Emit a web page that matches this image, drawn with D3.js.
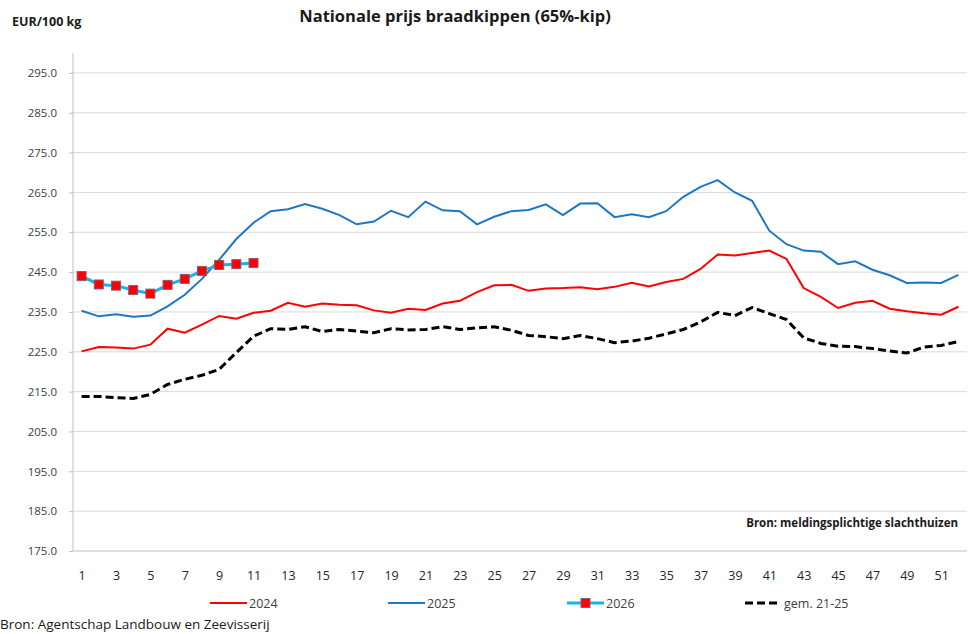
<!DOCTYPE html>
<html>
<head>
<meta charset="utf-8">
<script src="https://cdn.jsdelivr.net/npm/d3@7"></script>
<style>
  body { margin: 0; background: #fff; }
  svg { font-family: "Open Sans", sans-serif; }
</style>
</head>
<body>
<svg width="971" height="634"></svg>
<script>
// weeks 1..52
var weeks = d3.range(1, 53);
var weekLabels = weeks.filter(function (w) { return w % 2 === 1; });
var yTicks = [175, 185, 195, 205, 215, 225, 235, 245, 255, 265, 275, 285, 295];

var v2024 = [225.1, 226.2, 226.1, 225.8, 226.8, 230.8, 229.8, 231.8, 234.0, 233.3,
    234.8, 235.3, 237.3, 236.3, 237.1, 236.8, 236.7, 235.4, 234.8, 235.8,
    235.5, 237.1, 237.8, 240.0, 241.7, 241.8, 240.3, 240.9, 241.0, 241.2,
    240.7, 241.3, 242.3, 241.4, 242.5, 243.3, 245.8, 249.4, 249.2, 249.8,
    250.4, 248.3, 241.0, 238.8, 236.0, 237.3, 237.8, 235.8, 235.2, 234.7,
    234.3, 236.3];
var v2025 = [235.3, 233.9, 234.4, 233.8, 234.1, 236.4, 239.3, 243.3, 248.1, 253.3,
    257.4, 260.3, 260.8, 262.1, 260.9, 259.3, 257.0, 257.7, 260.4, 258.8,
    262.7, 260.5, 260.3, 257.0, 258.9, 260.3, 260.6, 262.0, 259.3, 262.2,
    262.3, 258.8, 259.5, 258.8, 260.3, 263.9, 266.4, 268.1, 265.0, 262.9,
    255.4, 252.0, 250.4, 250.1, 247.0, 247.7, 245.6, 244.2, 242.3, 242.4,
    242.3, 244.3];
var v2026 = [244.0, 241.9, 241.6, 240.5, 239.6, 241.8, 243.3, 245.3, 246.8, 247.0, 247.3];
var vGem = [213.8, 213.8, 213.5, 213.3, 214.3, 216.8, 218.1, 219.1, 220.6, 224.8,
    228.9, 230.8, 230.6, 231.3, 230.1, 230.6, 230.2, 229.8, 230.8, 230.5,
    230.6, 231.3, 230.6, 231.0, 231.3, 230.4, 229.1, 228.8, 228.3, 229.1,
    228.3, 227.3, 227.7, 228.4, 229.5, 230.6, 232.5, 234.9, 234.1, 236.1,
    234.6, 233.1, 228.5, 227.1, 226.4, 226.3, 225.8, 225.2, 224.7, 226.2,
    226.6, 227.6];

var svg = d3.select("svg");
var plotLeft = 73, plotRight = 967, plotTop = 53, plotBottom = 551;

var x = d3.scalePoint().domain(weeks).range([plotLeft, plotRight]).padding(0.5);
var y = d3.scaleLinear().domain([175, 300]).range([plotBottom, plotTop]);

// title and labels
svg.append("text")
    .attr("x", 455).attr("y", 22)
    .attr("text-anchor", "middle")
    .attr("font-size", 16.5).attr("font-weight", "bold").attr("fill", "#1a1a1a")
    .text("Nationale prijs braadkippen (65%-kip)");
svg.append("text")
    .attr("x", 12).attr("y", 26)
    .attr("font-size", 12.5).attr("font-weight", "bold").attr("fill", "#1a1a1a")
    .text("EUR/100 kg");

// grid
svg.append("g")
    .selectAll("line")
    .data(yTicks.slice(1))
    .enter().append("line")
    .attr("x1", plotLeft).attr("x2", plotRight)
    .attr("y1", function (d) { return y(d); })
    .attr("y2", function (d) { return y(d); })
    .attr("stroke", "#d9d9d9").attr("stroke-width", 1);

// y axis
var yAxis = svg.append("g")
    .attr("transform", "translate(" + plotLeft + ",0)")
    .call(d3.axisLeft(y).tickValues(yTicks).tickSize(4).tickFormat(d3.format(".1f")));
yAxis.select(".domain").attr("stroke", "#bfbfbf").attr("d", "M0," + plotTop + "V" + plotBottom);
yAxis.selectAll(".tick line").attr("stroke", "#bfbfbf");
yAxis.selectAll(".tick text").attr("x", -16).attr("font-size", 11.5).attr("fill", "#404040")
    .attr("font-family", "Open Sans, sans-serif");

// x axis
var xAxis = svg.append("g")
    .attr("transform", "translate(0," + plotBottom + ")")
    .call(d3.axisBottom(x).tickValues(weekLabels).tickSize(0));
xAxis.select(".domain").attr("stroke", "#bfbfbf").attr("d", "M" + plotLeft + ",0H" + plotRight);
xAxis.selectAll(".tick text").attr("dy", 0).attr("y", 29).attr("font-size", 12.5).attr("fill", "#262626")
    .attr("font-family", "Open Sans, sans-serif");

var line = d3.line()
    .x(function (d, i) { return x(weeks[i]); })
    .y(function (d) { return y(d); });

svg.append("path").datum(vGem).attr("d", line)
    .attr("fill", "none").attr("stroke", "#000").attr("stroke-width", 3)
    .attr("stroke-dasharray", "8,4");
svg.append("path").datum(v2024).attr("d", line)
    .attr("fill", "none").attr("stroke", "#ff0000").attr("stroke-width", 2);
svg.append("path").datum(v2025).attr("d", line)
    .attr("fill", "none").attr("stroke", "#1f77c4").attr("stroke-width", 2);
svg.append("path").datum(v2026).attr("d", line)
    .attr("fill", "none").attr("stroke", "#15b4ea").attr("stroke-width", 3);
svg.append("g").selectAll("rect")
    .data(v2026)
    .enter().append("rect")
    .attr("x", function (d, i) { return x(weeks[i]) - 4.5; })
    .attr("y", function (d) { return y(d) - 4.5; })
    .attr("width", 9).attr("height", 9)
    .attr("fill", "#ff0000").attr("stroke", "#8c5a6e").attr("stroke-width", 1);

svg.append("text")
    .attr("x", 958).attr("y", 527)
    .attr("text-anchor", "end")
    .attr("font-size", 11.5).attr("font-weight", "bold").attr("fill", "#1a1a1a")
    .text("Bron: meldingsplichtige slachthuizen");

// legend
var legend = [
    { name: "2024", x: 210, color: "#ff0000", width: 2, dash: null, marker: false },
    { name: "2025", x: 388, color: "#1f77c4", width: 2, dash: null, marker: false },
    { name: "2026", x: 567, color: "#15b4ea", width: 3, dash: null, marker: true },
    { name: "gem. 21-25", x: 745, color: "#000", width: 3, dash: "8,4", marker: false }
];
var lg = svg.append("g").selectAll("g").data(legend).enter().append("g")
    .attr("transform", function (d) { return "translate(" + d.x + ",603)"; });
lg.append("line")
    .attr("x1", 0).attr("x2", function (d) { return d.dash ? 34 : 37; })
    .attr("stroke", function (d) { return d.color; })
    .attr("stroke-width", function (d) { return d.width; })
    .attr("stroke-dasharray", function (d) { return d.dash; });
lg.filter(function (d) { return d.marker; }).append("rect")
    .attr("x", 14).attr("y", -4.5).attr("width", 9).attr("height", 9)
    .attr("fill", "#ff0000").attr("stroke", "#8c5a6e").attr("stroke-width", 1);
lg.append("text")
    .attr("x", 39)
    .attr("y", 5)
    .attr("font-size", 12.5).attr("fill", "#404040")
    .text(function (d) { return d.name; });

svg.append("text")
    .attr("x", 0).attr("y", 629)
    .attr("font-size", 13.5).attr("fill", "#1a1a1a")
    .text("Bron: Agentschap Landbouw en Zeevisserij");
</script>
</body>
</html>
